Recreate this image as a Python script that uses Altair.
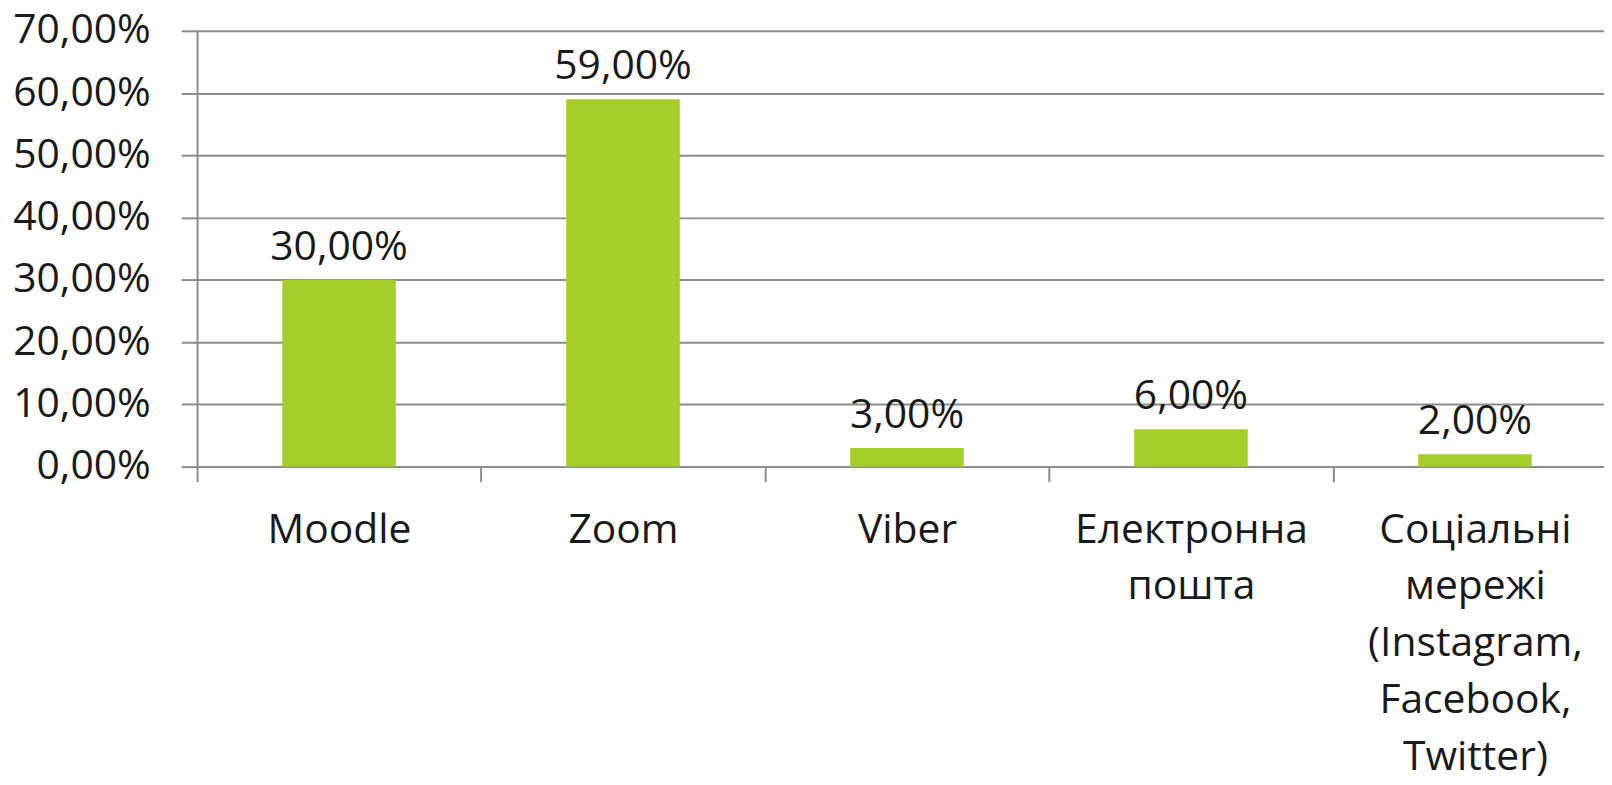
import altair as alt
import pandas as pd

categories = ["Moodle", "Zoom", "Viber", "Електронна\nпошта",
              "Соціальні\nмережі\n(Instagram,\nFacebook,\nTwitter)"]
values = [30.0, 59.0, 3.0, 6.0, 2.0]
y_ticks = [0, 10, 20, 30, 40, 50, 60, 70]

df = pd.DataFrame({"cat": categories, "v": values})

FONT = "Open Sans"
TXT = "#1a1a1a"
GRID = "#8c8c8c"

x = alt.X("cat:N", sort=categories, title=None,
          scale=alt.Scale(range=[0, 1427], paddingInner=0, paddingOuter=0),
          axis=alt.Axis(labelAngle=0, labelFont=FONT, labelFontSize=41,
                        labelColor=TXT, labelLineHeight=57, labelPadding=29,
                        labelExpr="split(datum.label, '\\n')",
                        tickBand="extent", tickSize=15, tickColor=GRID, tickWidth=2,
                        domain=True, domainColor=GRID, domainWidth=2,
                        grid=False, labelLimit=0))
y = alt.Y("v:Q", title=None,
          scale=alt.Scale(domain=[0, 70], nice=False),
          axis=alt.Axis(values=y_ticks,
                        labelExpr="replace(format(datum.value, '.2f'), '.', ',') + '%'",
                        labelFont=FONT, labelFontSize=41, labelColor=TXT,
                        labelPadding=31, labelBaseline="middle",
                        tickSize=16, tickColor=GRID, tickWidth=2,
                        domain=True, domainColor=GRID, domainWidth=2,
                        grid=True, gridColor=GRID, gridWidth=2))

bars = alt.Chart(df).mark_bar(color="#A6CE2A", width={"band": 0.4}).encode(x=x, y=y)

labels = alt.Chart(df).transform_calculate(
    lbl="replace(format(datum.v, '.2f'), '.', ',') + '%'"
).mark_text(font=FONT, fontSize=41, color=TXT, baseline="alphabetic",
            align="center", dy=-20).encode(x=x, y=y, text="lbl:N")

chart = alt.layer(bars, labels).properties(
    width=1414, height=438,
    autosize=alt.AutoSizeParams(type="none"),
    padding={"left": 190, "top": 21, "right": 0, "bottom": 310},
).configure_view(stroke=None).configure(background="white")

chart.save("out.html", embed_options={"renderer": "svg", "actions": False})
